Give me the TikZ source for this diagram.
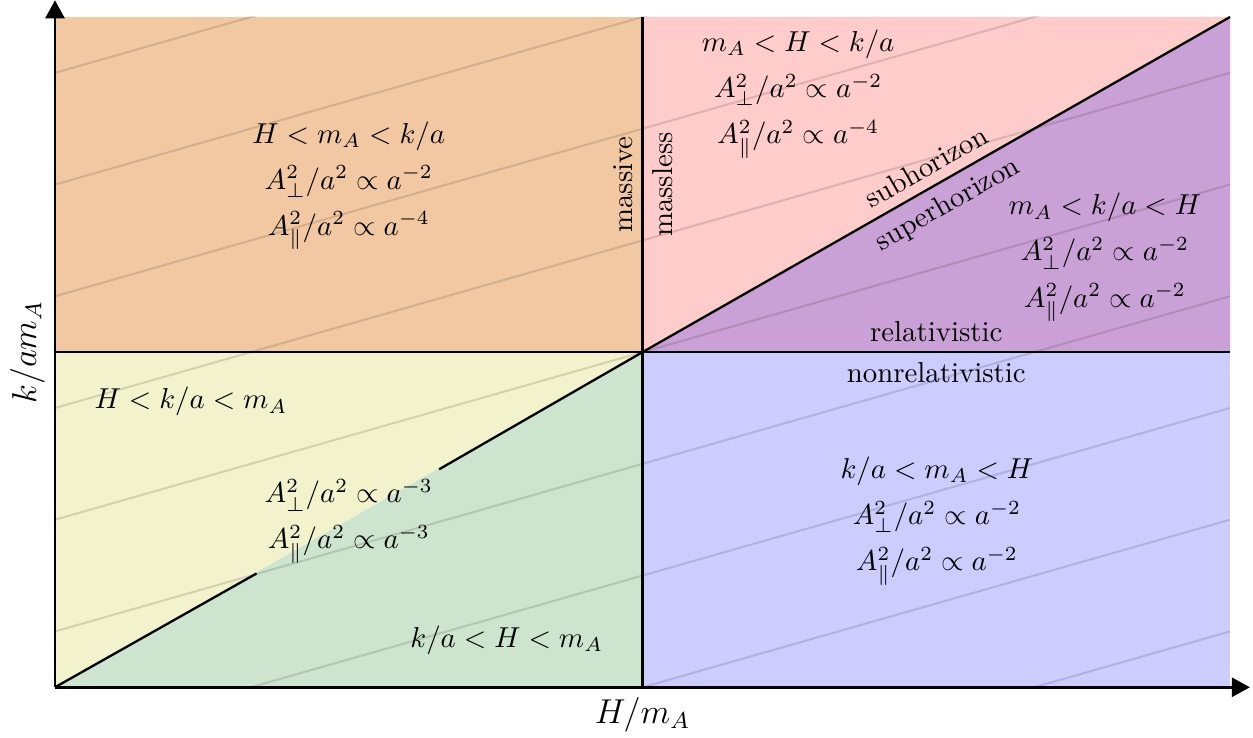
\documentclass[tikz,border=0pt]{standalone}
\usepackage{amsmath, amssymb}
\usepackage{tikz}
\usetikzlibrary{arrows.meta}
\definecolor{regMassiveRel}{RGB}{242, 200, 162}
\definecolor{regMasslessSub}{RGB}{255, 204, 204}
\definecolor{regMasslessSuper}{RGB}{202, 161, 214}
\definecolor{regMasslessNonrel}{RGB}{204, 204, 255}
\definecolor{regMassiveSub}{RGB}{242, 242, 204}
\definecolor{regMassiveSuper}{RGB}{205, 228, 206}

\begin{document}
\begin{tikzpicture}[
    x=7.17cm, y=4.09cm,
    regime/.style={align=center},
    divider/.style={line width=0.8pt, draw=black},
    track/.style={line width=0.7pt, draw=black, opacity=0.13},
    axis/.style={line width=1pt, -{Triangle[length=0.22cm, width=0.23cm]}},
    axislabel/.style={font=\large}
]
\useasboundingbox (-0.0936,-0.149) rectangle (2.0391,2.0507);

% --- Key points of the plane ----------------------------------------------
\coordinate (O) at (0,0);
\coordinate (M) at (1,1);
\coordinate (W) at (0,1);
\coordinate (E) at (2,1);
\coordinate (S) at (1,0);
\coordinate (N) at (1,2);
\coordinate (NE) at (2,2);
\coordinate (SE) at (2,0);
\coordinate (NW) at (0,2);
\coordinate (xtip) at (2.034,0);
\coordinate (ytip) at (0,2.05);

% --- Regions --------------------------------------------------------------
\fill[regMassiveRel] (W) rectangle (N);
\fill[regMasslessSub] (M) -- (N) -- (NE) -- cycle;
\fill[regMasslessSuper] (M) -- (NE) -- (E) -- cycle;
\fill[regMasslessNonrel] (S) rectangle (E);
\fill[regMassiveSub] (O) -- (M) -- (W) -- cycle;
\fill[regMassiveSuper] (O) -- (S) -- (M) -- cycle;

% --- Faint trajectories ---------------------------------------------------
\begin{scope}
    \clip (O) rectangle (NE);
    \foreach \n in {-3,...,5}
        \draw[track] (0,{1/6+\n/3}) -- (2,{7/6+\n/3});
\end{scope}

% --- Boundaries -----------------------------------------------------------
\node[regime] (llmid) at (0.5,0.495) {$A_\perp^2/a^2 \propto a^{-3}$\\[4pt] $A_\parallel^2/a^2 \propto a^{-3}$};
\draw[divider] (W) -- (E);
\draw[divider] (S) -- (N);
\draw[divider] (O) -- (llmid) -- (M);
\draw[divider] (M) -- node[sloped, above]{subhorizon} node[sloped, below]{superhorizon} (NE);

% --- Regime labels --------------------------------------------------------
\node[regime] (ul) at (0.5,1.497) {$H < m_A < k/a$\\[4pt] $A_\perp^2/a^2 \propto a^{-2}$\\[4pt] $A_\parallel^2/a^2 \propto a^{-4}$};
\node[regime] (ur) at (1.265,1.77) {$m_A < H < k/a$\\[4pt] $A_\perp^2/a^2 \propto a^{-2}$\\[4pt] $A_\parallel^2/a^2 \propto a^{-4}$};
\node[regime] (rmid) at (1.787,1.283) {$m_A < k/a < H$\\[4pt] $A_\perp^2/a^2 \propto a^{-2}$\\[4pt] $A_\parallel^2/a^2 \propto a^{-2}$};
\node[regime] (lr) at (1.501,0.496) {$k/a < m_A < H$\\[4pt] $A_\perp^2/a^2 \propto a^{-2}$\\[4pt] $A_\parallel^2/a^2 \propto a^{-2}$};
\node[regime] (lltop) at (0.2315,0.852) {$H < k/a < m_A$};
\node[regime] (llbot) at (0.769,0.14) {$k/a < H < m_A$};

% --- Boundary labels ------------------------------------------------------
\node[rotate=90, anchor=south] (massive) at (1,1.5) {massive};
\node[rotate=90, anchor=north] (massless) at (1,1.5) {massless};
\node[anchor=south] (rel) at (1.5,1) {relativistic};
\node[anchor=north] (nonrel) at (1.5,1) {nonrelativistic};

% --- Axes -----------------------------------------------------------------
\draw[axis] (O) -- (xtip);
\draw[axis] (O) -- (ytip);
\node[axislabel, below] (xlab) at (S) {$H/m_A$};
\node[axislabel, above, rotate=90] (ylab) at (W) {$k/am_A$};

\end{tikzpicture}
\end{document}
